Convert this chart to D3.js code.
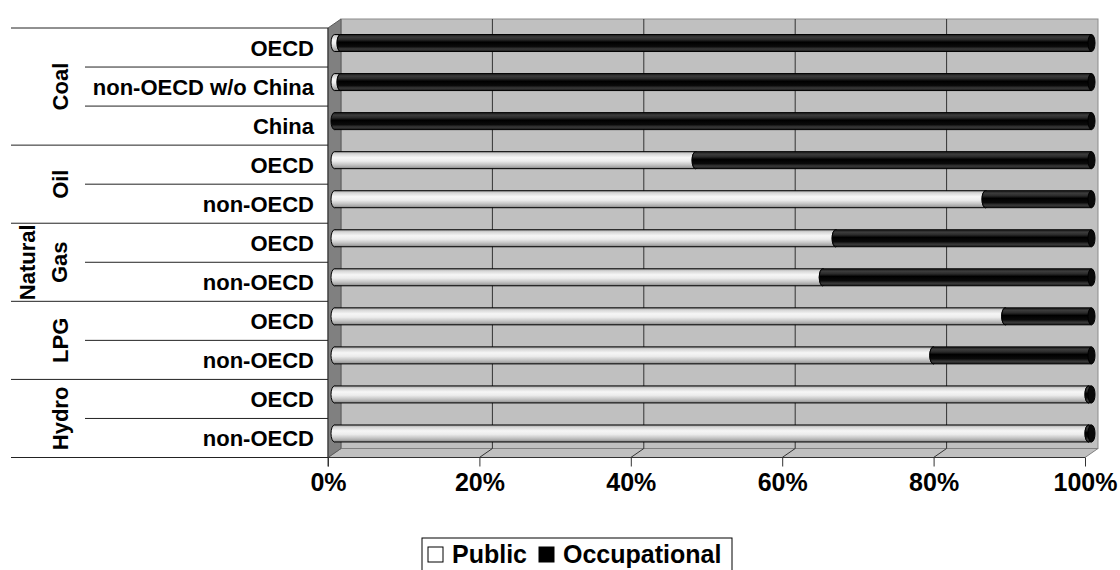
<!DOCTYPE html>
<html>
<head>
<meta charset="utf-8">
<script src="https://cdn.jsdelivr.net/npm/d3@7"></script>
<style>
  html, body { margin: 0; padding: 0; background: #ffffff; }
  svg { display: block; font-family: "Liberation Sans", Arial, sans-serif; font-weight: bold; }
</style>
</head>
<body>
<svg id="chart" width="1120" height="570"></svg>
<script>
// ---- data ----
const fuels = ["Coal", "Oil", "Natural Gas", "LPG", "Hydro"];
const rowFuel = ["Coal", "Coal", "Coal", "Oil", "Oil", "Natural Gas", "Natural Gas", "LPG", "LPG", "Hydro", "Hydro"];
const rowRegion = ["OECD", "non-OECD w/o China", "China", "OECD", "non-OECD", "OECD", "non-OECD", "OECD", "non-OECD", "OECD", "non-OECD"];
const publicShare = [0.8, 0.8, 0, 47.7, 86.0, 66.2, 64.5, 88.6, 79.1, 99.6, 99.6];
const occupationalShare = [99.2, 99.2, 100, 52.3, 14.0, 33.8, 35.5, 11.4, 20.9, 0.4, 0.4];
const seriesNames = ["Public", "Occupational"];
const tickValues = [0, 20, 40, 60, 80, 100];
const tickLabels = ["0%", "20%", "40%", "60%", "80%", "100%"];

// ---- layout ----
const svg = d3.select("#chart");
const front = { left: 328, right: 1085, top: 28, bottom: 457.5 };
const depth = { dx: 13, dy: -9 };
const x = d3.scaleLinear().domain([0, 100]).range([front.left, front.right]);
const rowIds = rowRegion.map((r, i) => i);
const y = d3.scaleBand().domain(rowIds).range([front.top, front.bottom]);

const defs = svg.append("defs");
function grad(id, stops) {
  const g = defs.append("linearGradient").attr("id", id)
    .attr("x1", 0).attr("y1", 0).attr("x2", 0).attr("y2", 1);
  stops.forEach(s => g.append("stop").attr("offset", s[0]).attr("stop-color", s[1]));
}
grad("gLight", [["0%", "#9a9a9a"], ["12%", "#d4d4d4"], ["35%", "#f6f6f6"], ["55%", "#ececec"], ["75%", "#c8c8c8"], ["90%", "#a8a8a8"], ["100%", "#7a7a7a"]]);
grad("gDark", [["0%", "#1a1a1a"], ["15%", "#3c3c3c"], ["30%", "#2a2a2a"], ["45%", "#000000"], ["70%", "#0a0a0a"], ["85%", "#3a3a3a"], ["100%", "#1a1a1a"]]);
const fills = ["url(#gLight)", "url(#gDark)"];
const capFills = ["#cfcfcf", "#0a0a0a"];

// ---- walls ----
const bx0 = front.left + depth.dx, bx1 = front.right + depth.dx;
const by0 = front.top + depth.dy, by1 = front.bottom + depth.dy;
// back wall
svg.append("rect").attr("x", bx0).attr("y", by0).attr("width", bx1 - bx0).attr("height", by1 - by0)
  .attr("fill", "#c0c0c0").attr("stroke", "#8c8c8c").attr("stroke-width", 1);
// floor
svg.append("polygon")
  .attr("points", [[front.left, front.bottom], [front.right, front.bottom], [bx1, by1], [bx0, by1]].map(p => p.join(",")).join(" "))
  .attr("fill", "#c0c0c0").attr("stroke", "#808080").attr("stroke-width", 1);
// left wall
svg.append("polygon")
  .attr("points", [[front.left, front.top], [bx0, by0], [bx0, by1], [front.left, front.bottom]].map(p => p.join(",")).join(" "))
  .attr("fill", "#808080").attr("stroke", "#5a5a5a").attr("stroke-width", 1);

// gridlines
tickValues.filter(v => v > 0 && v < 100).forEach(v => {
  const fx = x(v), bx = fx + depth.dx;
  svg.append("path")
    .attr("d", `M${bx},${by0} L${bx},${by1} L${fx},${front.bottom}`)
    .attr("fill", "none").attr("stroke", "#333333").attr("stroke-width", 1);
});

// axis line & ticks
svg.append("line").attr("x1", front.left).attr("x2", front.right).attr("y1", front.bottom).attr("y2", front.bottom)
  .attr("stroke", "#333").attr("stroke-width", 1);
svg.append("line").attr("x1", front.left).attr("x2", front.left).attr("y1", front.top).attr("y2", front.bottom + 9)
  .attr("stroke", "#333").attr("stroke-width", 1);
const xAxis = d3.axisBottom(x).tickValues(tickValues).tickFormat((d, i) => tickLabels[i]).tickSize(9).tickPadding(7);
const ax = svg.append("g").attr("transform", `translate(0,${front.bottom})`).call(xAxis);
ax.select(".domain").remove();
ax.selectAll(".tick line").attr("stroke", "#333");
ax.selectAll(".tick text").attr("font-size", 25).attr("font-weight", "bold")
  .attr("font-family", "'Liberation Sans', Arial, sans-serif").attr("fill", "#000");

// ---- bars (cylinders) ----
const barH = 17, rx = 3.5;
const bars = svg.append("g");
rowIds.forEach(i => {
  const cy = y(i) + y.bandwidth() / 2 + depth.dy / 2;
  const vals = [publicShare[i], occupationalShare[i]];
  let start = 0;
  vals.forEach((v, s) => {
    const end = start + v;
    const x0 = x(start) + depth.dx / 2, x1 = x(end) + depth.dx / 2;
    const g = bars.append("g");
    if (v > 0 || (s === 1)) {
      g.append("ellipse").attr("cx", x0).attr("cy", cy).attr("rx", rx).attr("ry", barH / 2)
        .attr("fill", fills[s]).attr("stroke", "#000").attr("stroke-width", 1);
      g.append("rect").attr("x", x0).attr("y", cy - barH / 2).attr("width", Math.max(0, x1 - x0)).attr("height", barH)
        .attr("fill", fills[s]);
      g.append("line").attr("x1", x0).attr("x2", x1).attr("y1", cy - barH / 2).attr("y2", cy - barH / 2)
        .attr("stroke", "#000").attr("stroke-width", 1);
      g.append("line").attr("x1", x0).attr("x2", x1).attr("y1", cy + barH / 2).attr("y2", cy + barH / 2)
        .attr("stroke", "#000").attr("stroke-width", 1);
      g.append("ellipse").attr("cx", x1).attr("cy", cy).attr("rx", rx).attr("ry", barH / 2)
        .attr("fill", capFills[s]).attr("stroke", "#000").attr("stroke-width", 1);
    }
    start = end;
  });
});

// ---- category table on the left ----
const tbl = svg.append("g");
const groupBounds = fuels.map(f => {
  const idx = rowIds.filter(i => rowFuel[i] === f);
  return { fuel: f, top: y(idx[0]), bottom: y(idx[idx.length - 1]) + y.bandwidth() };
});
rowIds.forEach(i => {
  if (i > 0 && rowFuel[i] === rowFuel[i - 1]) {
    tbl.append("line").attr("x1", 85).attr("x2", front.left).attr("y1", y(i)).attr("y2", y(i))
      .attr("stroke", "#222").attr("stroke-width", 1);
  }
});
const gLines = [groupBounds[0].top].concat(groupBounds.map(g => g.bottom));
gLines.forEach(v => {
  tbl.append("line").attr("x1", 11).attr("x2", front.left).attr("y1", v).attr("y2", v)
    .attr("stroke", "#222").attr("stroke-width", 1);
});
rowIds.forEach(i => {
  tbl.append("text").attr("x", 314).attr("y", y(i) + y.bandwidth() / 2 + 8)
    .attr("text-anchor", "end").attr("font-size", 22).attr("fill", "#000").text(rowRegion[i]);
});
groupBounds.forEach(g => {
  const cyc = (g.top + g.bottom) / 2;
  const words = g.fuel.split(" ");
  const baselines = words.length === 1 ? [68] : [35, 67];
  words.forEach((w, k) => {
    tbl.append("text").attr("transform", `translate(${baselines[k]},${cyc}) rotate(-90)`)
      .attr("text-anchor", "middle").attr("font-size", 22).attr("fill", "#000").text(w);
  });
});

// ---- legend ----
const lg = svg.append("g");
lg.append("rect").attr("x", 422).attr("y", 538).attr("width", 310).attr("height", 40)
  .attr("fill", "#fff").attr("stroke", "#000").attr("stroke-width", 1);
const legendX = [428, 539];
seriesNames.forEach((n, s) => {
  lg.append("rect").attr("x", legendX[s]).attr("y", 547).attr("width", 15).attr("height", 15)
    .attr("fill", s === 0 ? "#fff" : "#000").attr("stroke", "#000").attr("stroke-width", 1);
  lg.append("text").attr("x", legendX[s] + 24).attr("y", 563).attr("font-size", 25).attr("fill", "#000").text(n);
});
</script>
</body>
</html>
